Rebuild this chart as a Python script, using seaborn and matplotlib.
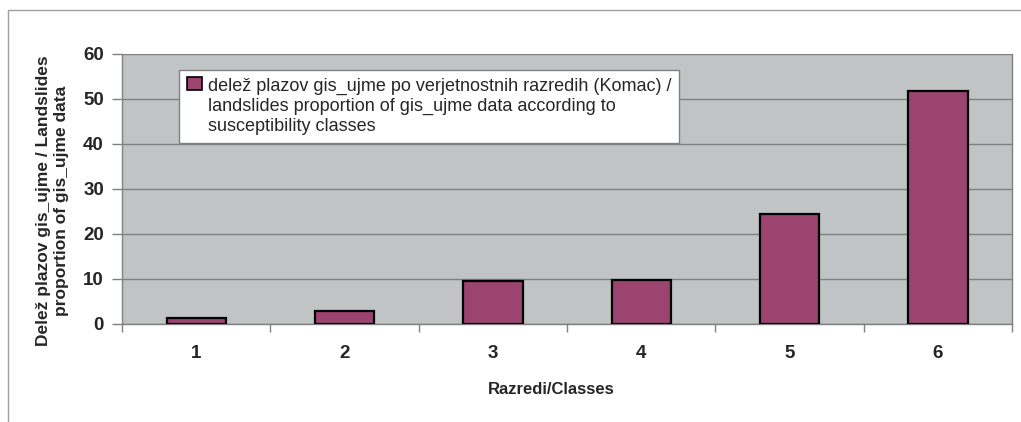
import matplotlib
matplotlib.use("Agg")
import pandas as pd
import seaborn as sns
from matplotlib import pyplot as plt
from matplotlib.legend_handler import HandlerPatch
from matplotlib.lines import Line2D
from matplotlib.patches import Rectangle
from matplotlib.ticker import FixedLocator

classes = ["1", "2", "3", "4", "5", "6"]
proportion = [1.4, 2.9, 9.6, 9.8, 24.4, 51.7]
series_label = ("delež plazov gis_ujme po verjetnostnih razredih (Komac) /\n"
                "landslides proportion of gis_ujme data according to\n"
                "susceptibility classes")

df = pd.DataFrame({"razred": classes, "delez": proportion})


class TopSquare(HandlerPatch):
    # put the legend square next to the first text line, like Excel does
    def create_artists(self, legend, orig_handle, xdescent, ydescent,
                       width, height, fontsize, trans):
        first = orig_handle[0] if hasattr(orig_handle, "patches") else orig_handle
        p = Rectangle((-xdescent, -ydescent + 1.3 * fontsize), width, height,
                      facecolor=first.get_facecolor(),
                      edgecolor="black", linewidth=1.2, transform=trans)
        return [p]


sns.set_style("white")
plt.rcParams["font.family"] = ["Liberation Sans", "DejaVu Sans"]

fig = plt.figure(figsize=(10.21, 4.22), dpi=100)
ax = fig.add_axes([122 / 1021, 1 - 324 / 422, 890 / 1021, 270.5 / 422])
ax.set_facecolor("#c0c4c4")

sns.barplot(data=df, x="razred", y="delez", ax=ax, width=0.4,
            color="#9b4470", edgecolor="black", linewidth=1.6,
            saturation=1, label=series_label, zorder=3)

ax.set_ylim(0, 60)
ax.set_xlim(-0.5, 5.5)
ax.set_yticks(range(0, 61, 10))
ax.yaxis.grid(True, color="#808080", linewidth=1, zorder=0)
ax.set_axisbelow(True)
ax.spines["top"].set_visible(False)
for side in ["left", "bottom", "right"]:
    ax.spines[side].set_visible(True)
    ax.spines[side].set_color("#808080")
    ax.spines[side].set_linewidth(1)

ax.tick_params(axis="y", which="major", length=7, color="#808080", width=1,
               labelsize=13.5, pad=6, left=True)
ax.tick_params(axis="x", which="major", length=0, labelsize=13.5, pad=15)
ax.xaxis.set_minor_locator(FixedLocator([i - 0.5 for i in range(7)]))
ax.tick_params(axis="x", which="minor", length=6, color="#808080", width=1,
               bottom=True)
for lbl in ax.get_xticklabels() + ax.get_yticklabels():
    lbl.set_fontweight("bold")

ax.set_xlabel("Razredi/Classes", fontsize=12, fontweight="bold")
ax.xaxis.set_label_coords(0.482, -0.215)
ax.set_ylabel("Delež plazov gis_ujme / Landslides\nproportion of gis_ujme data",
              fontsize=12.5, fontweight="bold")
ax.yaxis.set_label_coords(-0.06, 0.455)

handles, labels = ax.get_legend_handles_labels()
leg = ax.legend(handles, labels, loc="upper left", bbox_to_anchor=(0.064, 0.939),
                handler_map={type(handles[0]): TopSquare()},
                fontsize=13, frameon=True, fancybox=False, handlelength=0.8,
                handleheight=0.8, handletextpad=0.35, borderpad=0.45,
                borderaxespad=0)
for t in leg.get_texts():
    t.set_linespacing(1.22)
leg.get_frame().set_edgecolor("#808080")
leg.get_frame().set_linewidth(1)
leg.get_frame().set_facecolor("white")
leg.get_frame().set_alpha(1)
leg.set_zorder(5)

# outer chart border: only top and left are visible in the picture
fig.lines.append(Line2D([8 / 1021, 8 / 1021, 1.0], [0.0, 1 - 10 / 422, 1 - 10 / 422],
                        transform=fig.transFigure, color="#a0a0a0", linewidth=1))

fig.savefig("out.png", dpi=100)
